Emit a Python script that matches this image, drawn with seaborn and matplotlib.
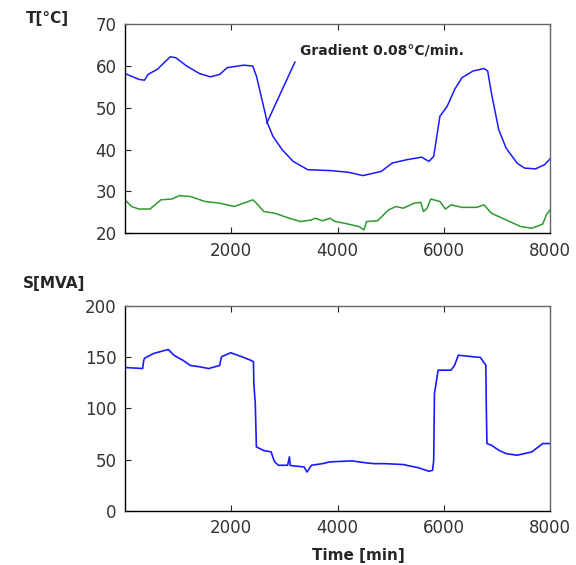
import matplotlib
matplotlib.use("Agg")
import matplotlib.pyplot as plt
import seaborn as sns
import pandas as pd

# top panel: temperatures [degC] vs time [min]
t_top_time = [0, 262, 366, 435, 608, 850, 953, 1160, 1402, 1610, 1783, 1921, 2232, 2404,
              2473, 2577, 2680, 2784, 2957, 3164, 3440, 3855, 4200, 4477, 4822, 5030,
              5306, 5582, 5720, 5810, 5927, 6065, 6204, 6342, 6549, 6757, 6826, 6895,
              7033, 7171, 7378, 7516, 7724, 7896, 8000]
t_oil = [58.2, 56.8, 56.6, 58.0, 59.2, 62.2, 62.0, 60.0, 58.2, 57.4, 58.0, 59.6, 60.2, 60.0,
         57.6, 52.0, 46.4, 43.2, 40.0, 37.2, 35.2, 35.0, 34.6, 33.8, 34.8, 36.8,
         37.6, 38.2, 37.2, 38.4, 48.0, 50.4, 54.4, 57.2, 58.8, 59.4, 58.8, 53.6,
         44.8, 40.4, 36.8, 35.6, 35.4, 36.4, 37.8]

t_amb_time = [0, 124, 262, 470, 677, 884, 1022, 1230, 1506, 1783, 2059, 2232, 2404, 2473,
              2611, 2818, 3095, 3302, 3509, 3578, 3717, 3855, 3959, 4131, 4408, 4497,
              4546, 4753, 4960, 5099, 5237, 5444, 5568, 5617, 5686, 5755, 5927, 6031,
              6135, 6342, 6619, 6757, 6895, 7171, 7448, 7655, 7862, 7931, 8000]
t_amb = [28.0, 26.4, 25.8, 25.8, 28.0, 28.2, 29.0, 28.8, 27.6, 27.2, 26.4, 27.2, 28.0, 27.2,
         25.2, 24.8, 23.6, 22.8, 23.2, 23.6, 23.0, 23.6, 22.8, 22.4, 21.6, 20.8,
         22.8, 23.0, 25.6, 26.4, 26.0, 27.2, 27.4, 25.2, 26.0, 28.2, 27.6, 25.8,
         26.8, 26.2, 26.2, 26.8, 24.8, 23.2, 21.6, 21.2, 22.2, 24.4, 25.6]

# bottom panel: load [MVA]
s_time = [0, 332, 350, 366, 539, 815, 919, 1091, 1230, 1402, 1575, 1783, 1800, 1817, 1990,
          2197, 2370, 2418, 2425, 2452, 2473, 2611, 2750, 2800, 2818, 2888, 3060, 3095,
          3110, 3164, 3371, 3426, 3509, 3717, 3855, 4270, 4546, 4684, 4892, 5237, 5513,
          5720, 5789, 5810, 5824, 5893, 6135, 6204, 6273, 6549, 6688, 6791, 6800, 6812,
          6895, 7033, 7171, 7378, 7655, 7862, 8000]
s_load = [140, 139, 146, 149, 153.7, 157.6, 152, 147, 142, 140.7, 139, 142, 147, 150.5, 154.4,
          150.5, 147, 145.6, 124, 105, 62.5, 59, 57.6, 50, 47.9, 44.6, 44.6, 52.8,
          44.5, 44, 43, 38, 44.6, 46.2, 47.9, 48.9, 46.9, 46.2, 46.2, 45.3, 42.3,
          38.8, 39.7, 49.5, 114.6, 137.4, 137.4, 142.3, 152, 150.5, 149.8, 142.3, 100, 65.8,
          64.2, 59.3, 56, 54.4, 57.6, 65.8, 65.8]

x_ticks = [2000, 4000, 6000, 8000]
t_ticks = [20, 30, 40, 50, 60, 70]
s_ticks = [0, 50, 100, 150, 200]

grad_label = "Gradient 0.08°C/min."
grad_tip = (2667, 46.3)
grad_tail = (3200, 61.0)
grad_text_pos = (3290, 63.8)

sns.set_style("ticks")
plt.rcParams['font.family'] = ['DejaVu Sans']

BLUE = "#1a1aff"
GREEN = "#2e9a2e"

fig = plt.figure(figsize=(5.76, 5.65), dpi=100)
ax1 = fig.add_axes([0.217, 0.5871, 0.738, 0.3701])
ax2 = fig.add_axes([0.217, 0.0956, 0.738, 0.3628])

df_oil = pd.DataFrame({"time": t_top_time, "T": t_oil})
df_amb = pd.DataFrame({"time": t_amb_time, "T": t_amb})
df_s = pd.DataFrame({"time": s_time, "S": s_load})

sns.lineplot(data=df_oil, x="time", y="T", ax=ax1, color=BLUE, lw=1.1, sort=False)
sns.lineplot(data=df_amb, x="time", y="T", ax=ax1, color=GREEN, lw=1.1, sort=False)
sns.lineplot(data=df_s, x="time", y="S", ax=ax2, color=BLUE, lw=1.2, sort=False)

ax1.annotate("", xy=grad_tip, xytext=grad_tail,
             arrowprops=dict(arrowstyle="-", color=BLUE, lw=1.1, shrinkA=0, shrinkB=0))
ax1.text(grad_text_pos[0], grad_text_pos[1], grad_label, fontsize=10,
         fontweight="bold", va="center", ha="left")

for ax, yt, ylim in [(ax1, t_ticks, (20, 70)), (ax2, s_ticks, (0, 200))]:
    ax.set_xlim(0, 8000)
    ax.set_ylim(*ylim)
    ax.set_xticks(x_ticks)
    ax.set_yticks(yt)
    ax.set_xlabel("")
    ax.set_ylabel("")
    ax.tick_params(direction="in", top=True, right=False, length=4, width=0.8,
                   labelsize=12, labelcolor="#333333", pad=6)
    for side in ["left", "bottom"]:
        ax.spines[side].set_color("black")
        ax.spines[side].set_linewidth(1.0)
    for side in ["top", "right"]:
        ax.spines[side].set_visible(True)
        ax.spines[side].set_color("#666666")
        ax.spines[side].set_linewidth(1.0)

fig.text(0.083, 0.968, "T[°C]", fontsize=11, fontweight="bold", ha="center", va="center")
fig.text(0.094, 0.499, "S[MVA]", fontsize=11, fontweight="bold", ha="center", va="center")
fig.text(0.623, 0.016, "Time [min]", fontsize=11, fontweight="bold", ha="center", va="center")

fig.savefig("out.png", dpi=100)
